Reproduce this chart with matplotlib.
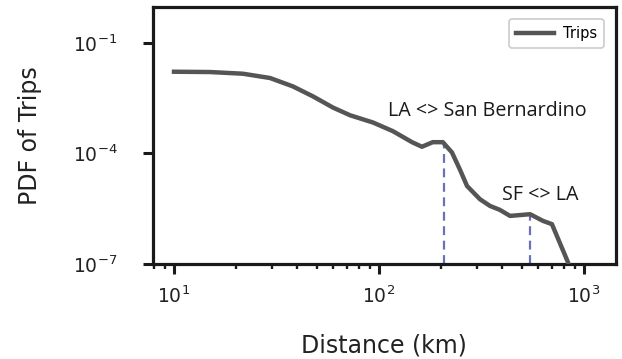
import numpy as np
import matplotlib.pyplot as plt
from matplotlib.ticker import LogLocator, NullLocator

# Distance (km) and log10 of the PDF of trips
distance = [10, 15, 21.7, 29.4, 38, 47.6, 59.7, 72.3, 93.6, 117, 145, 162, 183, 205,
            227, 248, 269, 311, 348, 389, 436, 546, 631, 698, 836, 890]
pdf_log = [-1.784, -1.792, -1.838, -1.954, -2.181, -2.451, -2.757, -2.965, -3.162, -3.397,
           -3.695, -3.819, -3.695, -3.695, -3.973, -4.432, -4.884, -5.243, -5.424, -5.532,
           -5.695, -5.649, -5.830, -5.919, -6.954, -7.5]
pdf = [10 ** v for v in pdf_log]

# annotated city pairs
marks = [207, 546]
mark_vals = [10 ** -3.695, 10 ** -5.649]
mark_labels = ['LA <> San Bernardino', 'SF <> LA']
label_pos = [(337, 10 ** -2.86), (610, 10 ** -5.14)]

fig = plt.figure(figsize=(6.22, 3.59), dpi=100)
ax = fig.add_axes([0.246, 0.2646, 0.744, 0.716])

ax.plot(distance, pdf, color='#555555', lw=3.2, label='Trips', zorder=3)
for x, v in zip(marks, mark_vals):
    ax.vlines(x, 1e-7, v, colors='#6b70b8', linestyles=(0, (4, 2.5)), lw=1.6, zorder=2)

for txt, (x, y) in zip(mark_labels, label_pos):
    ax.text(x, y, txt, ha='center', va='center',
            fontsize=14.2, family='Open Sans', color='#1a1a1a')

ax.set_xscale('log')
ax.set_yscale('log')
ax.set_xlim(7.9, 1430)
ax.set_ylim(1e-7, 0.94)
ax.set_yticks([1e-7, 1e-4, 1e-1])
ax.yaxis.set_minor_locator(NullLocator())
ax.xaxis.set_major_locator(LogLocator(base=10))
ax.xaxis.set_minor_locator(LogLocator(base=10, subs=np.arange(2, 10)))

for s in ax.spines.values():
    s.set_linewidth(2.3)
    s.set_color('#1a1a1a')
ax.tick_params(which='major', length=7.2, width=2.2, labelsize=13.5, color='#1a1a1a', labelcolor='#222222')
ax.tick_params(which='minor', length=3.8, width=1.7, color='#1a1a1a')
ax.tick_params(axis='y', which='major', pad=18.5)
ax.tick_params(axis='x', which='major', pad=8.5)

ax.set_xlabel('Distance (km)', fontsize=17, labelpad=19, color='#222222')
ax.set_ylabel('PDF of Trips', fontsize=17, labelpad=22, color='#222222')

leg = ax.legend(loc='upper right', fontsize=10.5, handlelength=2.6, fancybox=True, framealpha=1,
                borderpad=0.5, borderaxespad=0.8, handletextpad=0.6)
leg.get_frame().set_edgecolor('#cccccc')
leg.get_frame().set_linewidth(1.2)

fig.savefig('out.png', dpi=100)
